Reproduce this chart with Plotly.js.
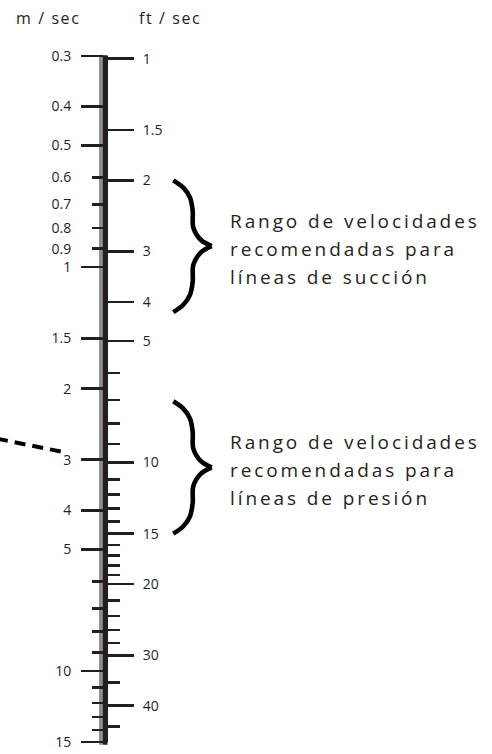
<!DOCTYPE html>
<html>
<head>
<meta charset="utf-8">
<script src="https://cdn.plot.ly/plotly-3.0.1.min.js"></script>
<style>
  html, body { margin: 0; padding: 0; background: #fff; }
  #chart { width: 492px; height: 754px; }
</style>
</head>
<body>
<div id="chart"></div>
<script>
// ---- Data ----
const M_PER_FT = 0.3048;
const mRange = [0.3, 15];                       // m/sec scale extent
const mMajorTicks = [0.3, 0.4, 0.5, 1, 1.5, 2, 3, 4, 5, 10, 15];
const mMajorLabels = ['0.3', '0.4', '0.5', '1', '1.5', '2', '3', '4', '5', '10', '15'];
const mMinorTicks = [0.6, 0.7, 0.8, 0.9, 6, 7, 8, 9, 11, 12, 13, 14];
const mMinorLabels = ['0.6', '0.7', '0.8', '0.9', '', '', '', '', '', '', '', ''];
const ftMajorTicks = [1, 1.5, 2, 3, 4, 5, 10, 15, 20, 30, 40, 50];
const ftMajorLabels = ['1', '1.5', '2', '3', '4', '5', '10', '15', '20', '30', '40', '50'];
const ftMinorTicks = [6, 7, 8, 9, 11, 12, 13, 14, 16, 17, 18, 19, 22, 24, 26, 28, 35, 45];
const suctionRangeFt = [2.0, 4.24];
const pressureRangeFt = [7.05, 15.0];
const suctionLines = ['Rango de velocidades', 'recomendadas para', 'líneas de succión'];
const pressureLines = ['Rango de velocidades', 'recomendadas para', 'líneas de presión'];
const unitLabels = ['m / sec', 'ft / sec'];
const dashLineM = [2.66, 2.87];                 // m/sec values along the dashed pointer

// ---- Styling / geometry ----
const W = 492, H = 754;
const INK = '#231f20';
const barX = 105;
const FONT = 'Open Sans, Noto Sans, sans-serif';
const log10 = Math.log10;
const ftRange = [mRange[0] / M_PER_FT, mRange[1] / M_PER_FT];

// brace profile: [x pixel, fraction of range] for upper half
const braceProfile = [[173.3, 0], [183.3, 0.056], [190, 0.131], [192.7, 0.232], [193.3, 0.358], [200.7, 0.451], [211.7, 0.5]];

function braceTraces(range) {
  const la = log10(range[0]), lb = log10(range[1]);
  const yAt = t => Math.pow(10, la + t * (lb - la));
  const upper = braceProfile;
  const lower = braceProfile.slice().reverse().map(p => [p[0], 1 - p[1]]);
  return [upper, lower].map(half => ({
    type: 'scatter', mode: 'lines', xaxis: 'x', yaxis: 'y2',
    x: half.map(p => p[0]), y: half.map(p => yAt(p[1])),
    line: { color: '#000', width: 4.6, shape: 'spline', smoothing: 1 },
    hoverinfo: 'skip'
  }));
}

const traces = [
  { type: 'scatter', mode: 'lines', xaxis: 'x', yaxis: 'y',
    x: [-3, 63], y: dashLineM,
    line: { color: '#000', width: 4, dash: '11px,7px' }, hoverinfo: 'skip' },
  { type: 'scatter', x: [], y: [], xaxis: 'x', yaxis: 'y3' },
  { type: 'scatter', x: [], y: [], xaxis: 'x', yaxis: 'y4' },
  ...braceTraces(suctionRangeFt),
  ...braceTraces(pressureRangeFt)
];

const baseAxis = {
  type: 'log', anchor: 'free', position: barX / W,
  showgrid: false, zeroline: false, showline: true,
  linecolor: INK, linewidth: 5,
  ticks: 'outside', tickmode: 'array', tickcolor: INK, tickwidth: 2.7,
  tickfont: { family: FONT, size: 14, color: INK },
  fixedrange: true
};
const mAxisRange = [log10(mRange[1]), log10(mRange[0])];
const ftAxisRange = [log10(ftRange[1]), log10(ftRange[0])];

const annotations = [];
const letterSpacing = [];
function textBlock(lines, range) {
  const ymid = log10(Math.sqrt(range[0] * range[1]));
  lines.forEach((s, i) => {
    annotations.push({
      xref: 'x', yref: 'y2', x: 228, y: ymid, xanchor: 'left', yanchor: 'middle',
      yshift: (1 - i) * 28 - 3, text: s, showarrow: false, align: 'left',
      font: { family: FONT, size: 19, color: INK }
    });
    letterSpacing.push(2.9);
  });
}
[[14, unitLabels[0]], [137, unitLabels[1]]].forEach(([x, s]) => {
  annotations.push({ xref: 'x', yref: 'paper', x: x, y: 1, yshift: 38.5, xanchor: 'left', yanchor: 'middle',
    text: s, showarrow: false, align: 'left', font: { family: FONT, size: 16, color: INK } });
  letterSpacing.push(1.6);
});
textBlock(suctionLines, suctionRangeFt);
textBlock(pressureLines, pressureRangeFt);

const layout = {
  width: W, height: H,
  margin: { l: 0, r: 0, t: 55.5, b: 12, pad: 0 },
  paper_bgcolor: '#fff', plot_bgcolor: 'rgba(0,0,0,0)',
  showlegend: false,
  xaxis: { range: [0, W], visible: false, fixedrange: true },
  yaxis: Object.assign({}, baseAxis, { side: 'left', range: mAxisRange,
    tickvals: mMajorTicks, ticktext: mMajorLabels, ticklen: 22, ticklabelstandoff: 7 }),
  yaxis3: Object.assign({}, baseAxis, { side: 'left', overlaying: 'y', range: mAxisRange,
    tickvals: mMinorTicks, ticktext: mMinorLabels, ticklen: 11, ticklabelstandoff: 18 }),
  yaxis2: Object.assign({}, baseAxis, { side: 'right', overlaying: 'y', range: ftAxisRange,
    tickvals: ftMajorTicks, ticktext: ftMajorLabels, ticklen: 26, ticklabelstandoff: 6 }),
  yaxis4: Object.assign({}, baseAxis, { side: 'right', overlaying: 'y', range: ftAxisRange,
    tickvals: ftMinorTicks, ticktext: ftMinorTicks.map(() => ''), ticklen: 12 }),
  shapes: [
    { type: 'line', layer: 'below', xref: 'x', yref: 'paper', x0: 100.7, x1: 100.7, y0: -0.004, y1: 1.001,
      line: { color: '#8d8f92', width: 3.4 } },
    { type: 'line', layer: 'below', xref: 'x', yref: 'paper', x0: barX, x1: barX, y0: -0.004, y1: 1.001,
      line: { color: INK, width: 5 } }
  ],
  annotations: annotations
};

Plotly.newPlot('chart', traces, layout, { displayModeBar: false, staticPlot: true }).then(() => {
  document.querySelectorAll('#chart .annotation-text').forEach((el, i) => {
    el.style.letterSpacing = (letterSpacing[i] || 0) + 'px';
  });
});
</script>
</body>
</html>
